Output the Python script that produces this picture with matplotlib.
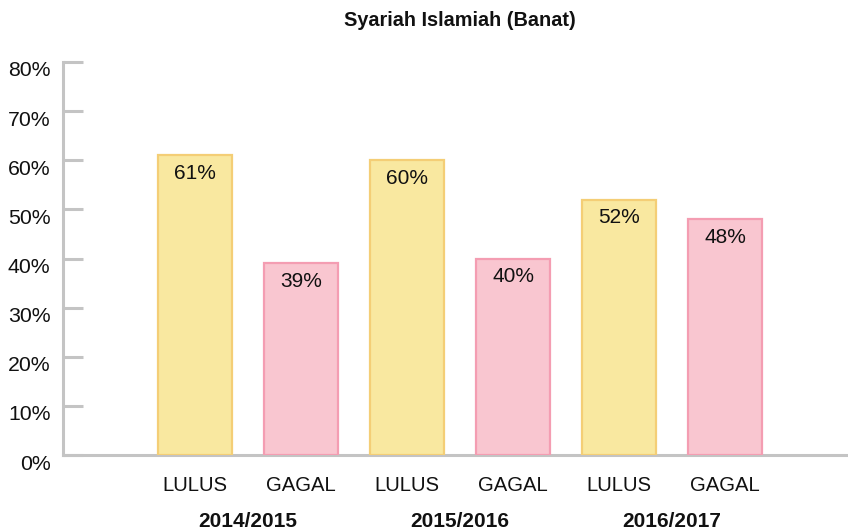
import matplotlib.pyplot as plt
import matplotlib.transforms as mtransforms

plt.rcParams['font.family'] = ['Liberation Sans', 'DejaVu Sans']

years = ['2014/2015', '2015/2016', '2016/2017']
categories = ['LULUS', 'GAGAL', 'LULUS', 'GAGAL', 'LULUS', 'GAGAL']
values = [61, 39, 60, 40, 52, 48]
fills = ['#F9E8A0', '#F9C6D0'] * 3
edges = ['#F4CE76', '#F49DB2'] * 3

fig = plt.figure(figsize=(8.48, 5.32), dpi=100)
ax = fig.add_axes([63 / 848, 77 / 532, 785 / 848, 393 / 532])

x = list(range(len(values)))
ax.bar(x, values, width=0.7, color=fills, edgecolor=edges, linewidth=1.6, zorder=3)

for xi, v in zip(x, values):
    ax.annotate(f'{v}%', (xi, v), xytext=(0, -13), textcoords='offset points',
                ha='center', va='center', fontsize=15, color='#111111', zorder=4)

ax.set_xlim(-1.245, 6.16)
ax.set_ylim(0, 80)

ax.set_yticks(range(0, 81, 10))
ax.set_yticklabels([f'{t}%' for t in range(0, 81, 10)])
ax.tick_params(axis='y', direction='in', length=14.4, width=2.2, color='#C4C4C4',
               pad=9, labelsize=15.3, labelcolor='#111111')
for lab in ax.get_yticklabels():
    lab.set_verticalalignment('top')
    lab.set_transform(lab.get_transform() + mtransforms.ScaledTranslation(0, 0.5 / 100, fig.dpi_scale_trans))

ax.set_xticks(x)
ax.set_xticklabels(categories)
ax.tick_params(axis='x', length=0, pad=15, labelsize=14.6, labelcolor='#111111')

for s in ['top', 'right']:
    ax.spines[s].set_visible(False)
for s in ['left', 'bottom']:
    ax.spines[s].set_color('#C4C4C4')
    ax.spines[s].set_linewidth(2.2)
ax.spines['bottom'].set_zorder(2)

for i, yr in enumerate(years):
    ax.text(2 * i + 0.5, -0.17, yr, transform=ax.get_xaxis_transform(),
            ha='center', va='center', fontsize=15, fontweight='bold', color='#111111')

fig.text(460 / 848, 1 - 20 / 532, 'Syariah Islamiah (Banat)', ha='center', va='center',
         fontsize=14.3, fontweight='bold', color='#111111')

fig.savefig('out.png', dpi=100, facecolor='white')
